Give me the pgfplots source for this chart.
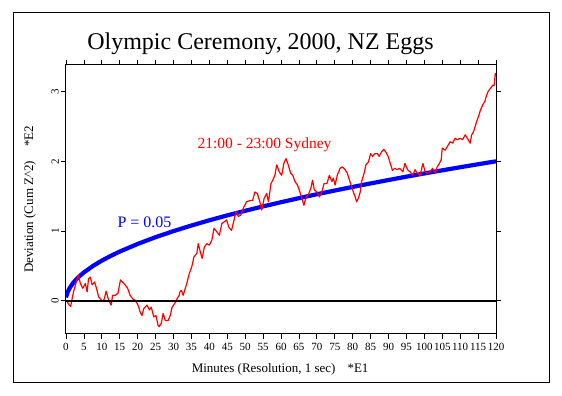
\documentclass[border=0pt]{standalone}
\usepackage{fontspec}
\setmainfont{Liberation Serif}
\usepackage{pgfplots}
\pgfplotsset{compat=1.18}
\begin{document}
\begin{tikzpicture}[x=1pt,y=1pt]
\useasboundingbox (0,0) rectangle (562,396);
\draw[line width=1pt] (13,13) rectangle (549,383);
\node[font=\fontsize{24}{28}\selectfont] at (260.5,352) {Olympic Ceremony, 2000, NZ Eggs};
\begin{axis}[
  at={(66pt,62.3pt)}, anchor=south west,
  scale only axis, width=430pt, height=268.7pt,
  xmin=0, xmax=120, ymin=-0.47, ymax=3.38,
  xtick={0,5,...,120}, ytick={0,1,2,3},
  tick align=outside, major tick length=5pt,
  axis line style={line width=1pt}, every tick/.style={black, line width=0.8pt},
  /pgf/number format/assume math mode=true,
  xticklabel style={font=\fontsize{11}{12}\selectfont, inner sep=1pt, yshift=-3pt},
  yticklabel style={font=\fontsize{11}{12}\selectfont, rotate=90, anchor=south, inner sep=2pt},
  every axis x label/.style={at={(axis description cs:0.498,0)}, yshift=-36pt, anchor=center, font=\fontsize{13}{15}\selectfont},
  every axis y label/.style={at={(axis description cs:-0.0837,0.5)}, rotate=90, anchor=center, font=\fontsize{13}{15}\selectfont},
  xlabel={Minutes (Resolution, 1 sec)\hspace{12pt}*E1},
  ylabel={Deviation (Cum Z\textasciicircum 2)\hspace{14pt}*E2},
  clip=true,
]
\addplot[blue, line width=4.2pt, line join=round] coordinates {
(0,0.05) (0.25,0.091) (0.5,0.129) (1,0.183) (2,0.258) (3,0.316) (4,0.365) (5,0.408)
(7.5,0.5) (10,0.577) (12.5,0.645) (15,0.707) (20,0.816) (25,0.913) (30,1.0)
(35,1.080) (40,1.155) (45,1.225) (50,1.291) (55,1.354) (60,1.414) (65,1.472)
(70,1.528) (75,1.581) (80,1.633) (85,1.683) (90,1.732) (95,1.780) (100,1.826)
(105,1.871) (110,1.915) (115,1.958) (120,2.0)};
\addplot[red, line width=1.2pt, line join=round] coordinates {
(0,0) (0.3,-0.01) (0.9,-0.06) (1.3,-0.08) (1.7,0.03) (2.1,0.13) (2.6,0.22) (3.1,0.32)
(3.5,0.37) (4.0,0.25) (4.7,0.18) (5.4,0.25) (5.9,0.13) (6.3,0.32) (6.8,0.34) (7.3,0.23)
(8.0,0.27) (8.5,0.18) (9.1,0.06) (9.6,0.03) (10.2,-0.01) (10.7,0.03) (11.2,0.14) (11.9,0.01)
(12.6,-0.06) (13.0,0.08) (13.8,0.08) (14.5,0.11) (15.2,0.30) (15.8,0.27) (16.5,0.23) (17.2,0.18)
(17.9,0.08) (18.6,0.03) (19.3,0.01) (20.1,-0.06) (20.7,-0.16) (21.2,-0.21) (21.7,-0.11) (22.6,-0.06)
(23.3,-0.13) (23.8,-0.09) (24.5,-0.23) (25.1,-0.21) (25.7,-0.35) (26.0,-0.37) (26.6,-0.32) (27.1,-0.18)
(27.7,-0.28) (28.5,-0.28) (29.1,-0.21) (29.6,-0.09) (30.3,-0.04) (31.0,0.03) (31.6,0.08) (31.8,0.13)
(32.2,0.15) (32.7,0.08) (33.7,0.25) (34.4,0.39) (35.1,0.49) (35.7,0.63) (36.5,0.68) (36.9,0.82)
(37.6,0.68) (38.0,0.61) (38.6,0.77) (39.3,0.82) (40.0,0.80) (40.7,0.87) (41.3,1.04) (42.1,0.99)
(42.8,0.94) (43.5,1.11) (44.1,1.13) (44.8,1.16) (45.5,1.05) (46.2,1.01) (46.9,1.16) (47.4,1.28)
(48.1,1.21) (48.8,1.23) (49.5,1.33) (50.4,1.42) (51.4,1.44) (52.1,1.44) (52.7,1.56) (53.4,1.54)
(54.1,1.42) (54.6,1.30) (55.3,1.47) (56.0,1.54) (56.5,1.42) (57.2,1.68) (57.7,1.73) (58.3,1.80)
(58.8,1.95) (59.5,1.85) (60.2,1.80) (60.8,1.97) (61.4,2.04) (62.0,1.95) (62.7,1.83) (63.3,1.80)
(63.9,1.71) (64.6,1.66) (65.1,1.59) (65.8,1.47) (66.4,1.37) (67.0,1.49) (67.6,1.52) (68.3,1.61)
(68.8,1.73) (69.3,1.59) (70.0,1.56) (70.7,1.49) (71.4,1.56) (72.0,1.68) (72.8,1.68) (73.5,1.80)
(74.2,1.71) (74.6,1.76) (75.1,1.66) (75.7,1.80) (76.5,1.90) (77.1,1.92) (77.9,1.88) (78.5,1.83)
(79.1,1.73) (79.7,1.64) (80.2,1.56) (80.7,1.49) (81.1,1.42) (81.6,1.47) (82.1,1.56) (82.5,1.71)
(83.2,1.83) (83.7,1.95) (84.4,1.99) (85.0,2.11) (85.6,2.07) (86.2,2.11) (86.9,2.11) (87.4,2.07)
(88.1,2.14) (88.7,2.17) (89.3,2.13) (89.9,2.07) (90.5,1.97) (91.1,1.87) (91.7,1.90) (92.4,1.88)
(93.1,1.90) (94.0,1.85) (94.6,1.97) (95.3,1.88) (96.0,1.85) (96.8,1.80) (97.4,1.88) (98.0,1.83)
(98.8,1.80) (99.6,1.97) (100.2,1.85) (100.8,1.83) (101.6,1.85) (102.3,1.90) (103.0,1.83) (103.6,1.92)
(104.2,1.97) (104.7,2.02) (105.0,2.19) (105.8,2.16) (106.4,2.21) (107.2,2.28) (107.9,2.26) (108.6,2.33)
(109.2,2.31) (110.0,2.33) (110.7,2.31) (111.4,2.38) (112.0,2.33) (112.8,2.26) (113.2,2.38) (113.7,2.42)
(114.2,2.50) (114.6,2.57) (115.1,2.64) (115.7,2.74) (116.3,2.81) (116.9,2.86) (117.4,2.95) (117.8,3.00)
(118.5,3.05) (119.1,3.09) (119.5,3.09) (119.8,3.26) (120,3.22)};
\addplot[black, line width=2.2pt] coordinates {(0,0) (120,0)};
\node[red, font=\fontsize{15.5}{18}\selectfont] at (axis cs:55.4,2.23) {21:00 - 23:00 Sydney};
\node[blue, font=\fontsize{16}{18}\selectfont] at (axis cs:21.9,1.13) {P = 0.05};
\end{axis}
\end{tikzpicture}
\end{document}
